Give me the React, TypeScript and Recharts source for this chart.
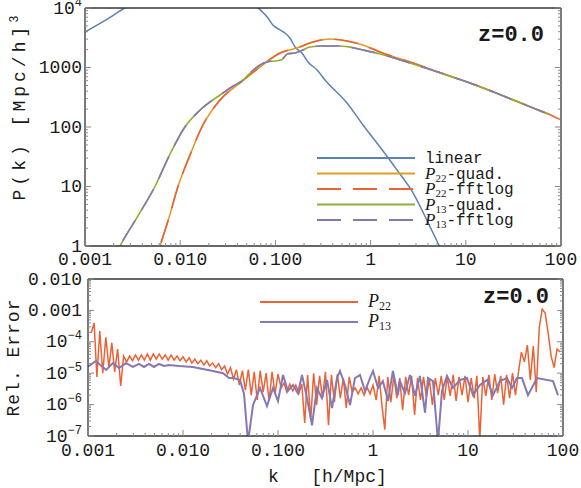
import { Line, LineChart, XAxis, YAxis } from "recharts";

const FONT = "'Liberation Mono', 'Courier New', monospace";
const SERIF = "'Liberation Serif', 'Times New Roman', serif";
const BLUE = "#5e81b5";
const ORANGE = "#e19c24";
const GREEN = "#8fb032";
const RED = "#eb6235";
const PURPLE = "#8778b3";
const TICK = "#8a8a8a";
const FRAME = { stroke: "#333", strokeWidth: 1.3 };

// ---- top panel: P(k) ----
const linK = [0.001, 0.0018, 0.0026, 0.004, 0.007, 0.012, 0.02, 0.03, 0.045, 0.066, 0.082, 0.094, 0.112, 0.126, 0.142, 0.161, 0.19, 0.22, 0.274, 0.332, 0.565, 0.832, 1.256, 1.89, 2.79, 4.0, 5.27, 8];
const linP = [3950, 6800, 10000, 14000, 20000, 25000, 27000, 24000, 16000, 10000, 7060, 5180, 4270, 3800, 3130, 2210, 1750, 1240, 907, 617, 253, 108, 46, 19, 7.8, 2.5, 1.0, 0.25];

const p22K = [0.0045, 0.00613, 0.00763, 0.00948, 0.0126, 0.0169, 0.0262, 0.0425, 0.0689, 0.112, 0.168, 0.249, 0.376, 0.565, 0.83, 1.256, 2.79, 6.3, 14.1, 31.6, 70.7];
const p22P = [0.2, 1, 3, 10, 33, 100, 284, 550, 1020, 1750, 2130, 2680, 3010, 2790, 2390, 1820, 1190, 748, 476, 284, 170];
// fftlog run reaches further out; listed from the high-k end
const p22FftK = [97.6, ...p22K.slice().reverse()];
const p22FftP = [134, ...p22P.slice().reverse()];

const p13K = [0.0017, 0.00233, 0.0036, 0.00543, 0.00781, 0.0112, 0.0162, 0.0262, 0.0361, 0.0457, 0.0585, 0.0746, 0.0813, 0.1, 0.116, 0.135, 0.16, 0.195, 0.23, 0.317, 0.475, 0.565, 0.83, 1.256, 2.79, 6.3, 14.1, 31.6, 73];
const p13P = [0.35, 1, 3.2, 10, 35, 100, 193, 345, 489, 616, 908, 1180, 1240, 1290, 1350, 1700, 1750, 1970, 2210, 2300, 2300, 2240, 1970, 1690, 1145, 748, 476, 284, 165];

// ---- bottom panel: relative error ----
const errK22 = [
  0.00108, 0.00116, 0.00124, 0.00133, 0.00143, 0.00154, 0.00166, 0.00178, 0.00191, 0.00205, 0.00221, 0.00237, 0.00255, 0.00274, 0.00294, 0.00316, 0.0034, 0.00365, 0.00392, 0.00422, 0.00453, 0.00487, 0.00523, 0.00562, 0.00604, 0.00649, 0.00698, 0.0075, 0.00806, 0.00866, 0.00931,
  0.01, 0.0108, 0.0116, 0.0124, 0.0133, 0.0143, 0.0154, 0.0166, 0.0178, 0.0191, 0.0205, 0.0221, 0.0237, 0.0255, 0.0274, 0.0294, 0.0316, 0.034, 0.0365, 0.0392, 0.0422, 0.0453, 0.0487, 0.0523, 0.0562, 0.0604, 0.0649, 0.0698, 0.075, 0.0806, 0.0866, 0.0931,
  0.1, 0.108, 0.116, 0.124, 0.133, 0.143, 0.154, 0.166, 0.178, 0.191, 0.205, 0.221, 0.237, 0.255, 0.274, 0.294, 0.316, 0.34, 0.365, 0.392, 0.422, 0.453, 0.487, 0.523, 0.562, 0.604, 0.649, 0.698, 0.75, 0.806, 0.866, 0.931,
  1, 1.08, 1.16, 1.24, 1.33, 1.43, 1.54, 1.66, 1.78, 1.91, 2.05, 2.21, 2.37, 2.55, 2.74, 2.94, 3.16, 3.4, 3.65, 3.92, 4.22, 4.53, 4.87, 5.23, 5.62, 6.04, 6.49, 6.98, 7.5, 8.06, 8.66, 9.31,
  10, 10.8, 11.6, 12.4, 13.3, 14.3, 15.4, 16.6, 17.8, 19.1, 20.5, 22.1, 23.7, 25.5, 27.4, 29.4, 31.6, 34, 36.5, 39.2, 42.2, 45.3, 48.7, 52.3, 56.2, 60.4, 64.9, 69.8, 75, 80.6, 86.6, 93.1,
];
const err22 = [
  1.9e-4, 4.0e-4, 7.6e-6, 2.2e-4, 1.0e-5, 1.4e-4, 1.5e-5, 9.2e-5, 1.1e-5, 5.9e-5,
  3.9e-6, 3.5e-5, 2.3e-5, 3.5e-5, 2.5e-5, 3.8e-5, 2.6e-5, 3.8e-5, 2.6e-5, 4.1e-5,
  2.6e-5, 4.1e-5, 2.8e-5, 4.1e-5, 2.8e-5, 3.8e-5, 2.6e-5, 3.8e-5, 2.6e-5, 3.5e-5,
  2.5e-5, 3.3e-5, 2.3e-5, 3.1e-5, 2.1e-5, 2.8e-5, 2.0e-5, 2.6e-5, 1.8e-5, 2.5e-5,
  1.7e-5, 2.1e-5, 1.5e-5, 2.0e-5, 1.3e-5, 1.7e-5, 9.4e-6, 1.5e-5, 6.5e-6, 1.3e-5,
  4.2e-6, 1.2e-5, 2.9e-6, 1.3e-5, 2.0e-6, 1.1e-5, 1.4e-6, 1.2e-5, 2.5e-6, 1.0e-5,
  1.3e-6, 1.1e-5, 2.2e-6, 9.4e-6, 3.4e-6, 4.9e-6, 2.5e-6, 4.5e-6, 2.7e-6, 4.2e-6,
  2.3e-6, 4.5e-6, 2.6e-7, 8.8e-6, 3.2e-7, 1.0e-5, 9.7e-7, 8.2e-6, 1.6e-6, 1.1e-5,
  2.2e-7, 8.8e-6, 1.2e-6, 9.4e-6, 1.6e-6, 7.0e-6, 7.8e-7, 7.6e-6, 2.5e-6, 3.4e-6,
  2.2e-6, 3.4e-6, 2.0e-6, 3.6e-6, 2.2e-6, 4.2e-6, 1.4e-6, 8.2e-6, 1.0e-6, 1.6e-7,
  7.6e-6, 1.2e-6, 8.2e-6, 1.6e-6, 7.0e-6, 6.7e-7, 7.6e-6, 2.0e-6, 8.2e-6, 4.7e-7,
  7.0e-6, 1.4e-6, 7.6e-6, 1.75e-6, 6.5e-6, 9.7e-7, 7.0e-6, 2.0e-6, 8.2e-6, 1.4e-6,
  7.6e-6, 1.9e-6, 8.8e-6, 1.3e-6, 7.6e-6, 2.0e-6, 8.2e-6, 1.2e-6, 7.0e-6, 1.6e-6,
  8.2e-6, 7.5e-8, 7.6e-6, 1.9e-6, 8.8e-6, 1.4e-6, 9.4e-6, 2.3e-6, 8.2e-6, 1.0e-6,
  8.8e-6, 1.6e-6, 1.0e-5, 2.0e-6, 1.1e-5, 4.7e-5, 2.3e-5, 7.9e-5, 6.1e-6, 7.3e-5,
  2.5e-6, 2.75e-4, 1.1e-3, 8.3e-4, 1.9e-4, 3.5e-5, 1.5e-5, 5.9e-5, 4.7e-5,
];

const errK13 = [
  0.001, 0.00121, 0.00155, 0.00183, 0.00212, 0.00251, 0.00298, 0.00344, 0.00389, 0.00439, 0.00495, 0.00559, 0.00631, 0.00712, 0.00908,
  0.0127, 0.0162, 0.0207, 0.0264, 0.0305, 0.0344, 0.0398, 0.0439, 0.0483, 0.0546, 0.0646, 0.0766, 0.0886, 0.1, 0.113, 0.127, 0.144, 0.162, 0.179, 0.202, 0.228, 0.257, 0.29, 0.328, 0.37, 0.418, 0.449, 0.507, 0.573, 0.646, 0.73, 0.824, 0.93,
  1.0, 1.13, 1.27, 1.44, 1.62, 1.83, 1.92, 2.17, 2.45, 2.77, 3.12, 3.53, 3.79, 4.28, 4.83, 5.32, 6.01, 6.95, 8.24, 9.76, 11.3, 13.4, 15.9, 18.3, 21.7, 25.7, 29.1, 32.8, 37.0, 42.8, 53.2, 78.5, 88.6,
];
const err13 = [
  1.6e-5, 2.45e-5, 1.27e-5, 2.1e-5, 1.47e-5, 2.1e-5, 1.58e-5, 1.97e-5, 1.58e-5, 1.97e-5, 1.58e-5, 1.97e-5, 1.7e-5, 1.83e-5, 1.7e-5,
  1.58e-5, 1.36e-5, 1.18e-5, 1.0e-5, 7.0e-6, 7.0e-6, 6.1e-6, 2.2e-6, 6.5e-8, 9.7e-7, 3.4e-6, 9.0e-7, 3.4e-6, 1.3e-6, 8.8e-6, 2.7e-6, 4.2e-6, 2.3e-6, 8.8e-6, 1.6e-6, 2.2e-7, 3.4e-6, 1.6e-6, 6.1e-6, 7.8e-7, 7.0e-6, 1.18e-5, 4.2e-6, 9.7e-7, 7.0e-6, 8.8e-6, 2.7e-6, 7.0e-6,
  1.18e-5, 3.4e-6, 5.6e-6, 1.3e-6, 1.18e-5, 2.0e-6, 5.6e-6, 2.3e-6, 8.8e-6, 1.9e-6, 8.2e-6, 5.5e-7, 7.0e-6, 5.6e-6, 6.5e-8, 2.7e-6, 8.2e-6, 3.4e-6, 6.1e-6, 7.0e-6, 2.0e-6, 4.2e-6, 6.1e-6, 2.0e-6, 5.6e-6, 7.0e-6, 3.4e-6, 7.0e-6, 7.0e-6, 2.0e-6, 7.0e-6, 5.6e-6, 2.0e-6,
];

// ---- axes ----
const xMajor = [0.001, 0.01, 0.1, 1, 10, 100];
const xLabels = ["0.001", "0.010", "0.100", "1", "10", "100"];
const topYMajor = [1, 10, 100, 1000, 10000];
const topYLabels = ["1", "10", "100", "1000", "10^4"];
const botYMajor = [1e-7, 1e-6, 1e-5, 1e-4, 1e-3, 1e-2];
const botYLabels = ["10^−7", "10^−6", "10^−5", "10^−4", "0.001", "0.010"];

const topLegend = ["linear", "P_22-quad.", "P_22-fftlog", "P_13-quad.", "P_13-fftlog"];
const topLegendColors = [BLUE, ORANGE, RED, GREEN, PURPLE];
const topLegendDashed = [false, false, true, false, true];
const botLegend = ["P_22", "P_13"];
const botLegendColors = [RED, PURPLE];

const pairs = (ks: number[], vs: number[]) => ks.map((k, i) => ({ k, v: vs[i] }));

function withMinors(majors: number[]) {
  const out: number[] = [];
  majors.forEach((m, i) => {
    out.push(m);
    if (i < majors.length - 1) for (let j = 2; j < 10; j++) out.push(m * j);
  });
  return out;
}

type Side = "bottom" | "top" | "left" | "right";

function renderTick(p: any, side: Side, majors: number[], labels: string[] | null, off: number) {
  const { x, y, payload } = p;
  const i = majors.findIndex((m) => Math.abs(payload.value / m - 1) < 1e-6);
  const len = i >= 0 ? 6 : 3;
  const dx = side === "left" ? len : side === "right" ? -len : 0;
  const dy = side === "bottom" ? -len : side === "top" ? len : 0;
  let label = null;
  if (labels && i >= 0) {
    const [base, sup] = labels[i].split("^");
    const left = side === "left";
    label = (
      <text
        x={left ? x - off : x}
        y={left ? y + 5.5 : y + off}
        textAnchor={left ? "end" : "middle"}
        fontFamily={FONT}
        fontSize={18}
        fill="#1a1a1a"
      >
        {base}
        {sup ? (
          <tspan dy={-8} fontSize={12}>
            {sup}
          </tspan>
        ) : null}
      </text>
    );
  }
  return (
    <g>
      <line x1={x} y1={y} x2={x + dx} y2={y + dy} stroke={TICK} strokeWidth={1} />
      {label}
    </g>
  );
}

function PLabel({ x, y, text, size }: { x: number; y: number; text: string; size: number }) {
  if (!text.startsWith("P_")) {
    return (
      <text x={x} y={y} fontFamily={FONT} fontSize={size} fill="#1a1a1a">
        {text}
      </text>
    );
  }
  const sub = text.slice(2, 4);
  const rest = text.slice(4);
  return (
    <text x={x} y={y} fontFamily={FONT} fontSize={size} fill="#1a1a1a">
      <tspan fontFamily={SERIF} fontStyle="italic" fontSize={size + 1}>
        P
      </tspan>
      <tspan fontFamily={SERIF} fontSize={size - 5} dy={3}>
        {sub}
      </tspan>
      <tspan dy={-3}>{rest}</tspan>
    </text>
  );
}

function Panel({ width, height, top, bottom, left, right, yDomain, yMajor, yLabels, xOff, yOff, children }: any) {
  const xTicks = withMinors(xMajor);
  const yTicks = withMinors(yMajor);
  const common = { type: "number" as const, scale: "log" as const, allowDataOverflow: true, interval: 0, tickSize: 0, tickMargin: 0, tickLine: false, axisLine: FRAME };
  return (
    <LineChart width={width} height={height} margin={{ top: 0, right: 0, bottom: 0, left: 0 }}>
      <XAxis xAxisId="b" dataKey="k" domain={[0.001, 100]} ticks={xTicks} height={bottom} {...common} tick={(p: any) => renderTick(p, "bottom", xMajor, xLabels, xOff)} />
      <XAxis xAxisId="t" orientation="top" domain={[0.001, 100]} ticks={xTicks} height={top} {...common} tick={(p: any) => renderTick(p, "top", xMajor, null, 0)} />
      <YAxis yAxisId="l" domain={yDomain} ticks={yTicks} width={left} {...common} tick={(p: any) => renderTick(p, "left", yMajor, yLabels, yOff)} />
      <YAxis yAxisId="r" orientation="right" domain={yDomain} ticks={yTicks} width={right} {...common} tick={(p: any) => renderTick(p, "right", yMajor, null, 0)} />
      {children}
    </LineChart>
  );
}

const lineProps = { xAxisId: "b", yAxisId: "l", dataKey: "v", dot: false, isAnimationActive: false, type: "linear" as const };
const smooth = { ...lineProps, type: "monotoneX" as const };

export default function App() {
  return (
    <div style={{ position: "absolute", left: 0, top: 0, width: 581, height: 488, background: "#fff" }}>
      <div style={{ position: "absolute", left: 0, top: 0 }}>
        <Panel width={581} height={270} top={8} bottom={24} left={85} right={20} yDomain={[1, 10000]} yMajor={topYMajor} yLabels={topYLabels} xOff={19} yOff={3}>
          <Line {...smooth} data={pairs(linK, linP)} stroke={BLUE} strokeWidth={1.5} />
          <Line {...smooth} data={pairs(p22K, p22P)} stroke={ORANGE} strokeWidth={1.6} />
          <Line {...lineProps} type="monotone" data={pairs(p22FftK, p22FftP)} stroke={RED} strokeWidth={1.6} strokeDasharray="24 12" />
          <Line {...smooth} data={pairs(p13K, p13P)} stroke={GREEN} strokeWidth={1.6} />
          <Line {...smooth} data={pairs(p13K, p13P)} stroke={PURPLE} strokeWidth={1.6} strokeDasharray="24 12" />
        </Panel>
      </div>
      <div style={{ position: "absolute", left: 0, top: 270 }}>
        <Panel width={581} height={218} top={9} bottom={52} left={88} right={18} yDomain={[1e-7, 1e-2]} yMajor={botYMajor} yLabels={botYLabels} xOff={20} yOff={6}>
          <Line {...lineProps} data={pairs(errK22, err22)} stroke={RED} strokeWidth={1.5} />
          <Line {...lineProps} data={pairs(errK13, err13)} stroke={PURPLE} strokeWidth={2} />
        </Panel>
      </div>
      <svg width={581} height={488} style={{ position: "absolute", left: 0, top: 0, pointerEvents: "none" }}>
        <text x={25} y={108} transform="rotate(-90 25 108)" textAnchor="middle" fontFamily={FONT} fontSize={18} fill="#1a1a1a" textLength={185} lengthAdjust="spacing">
          P(k) [Mpc/h]<tspan dy={-7} fontSize={12}>3</tspan>
        </text>
        <text x={19} y={358} transform="rotate(-90 19 358)" textAnchor="middle" fontFamily={FONT} fontSize={18} fill="#1a1a1a" textLength={117} lengthAdjust="spacing">
          Rel. Error
        </text>
        <text x={268} y={482} fontFamily={FONT} fontSize={18} fill="#1a1a1a" style={{ whiteSpace: "pre" }}>
          {"k   [h/Mpc]"}
        </text>
        <text x={478} y={41} fontFamily={FONT} fontSize={22} fontWeight="bold" fill="#1a1a1a">
          z=0.0
        </text>
        <text x={483} y={303} fontFamily={FONT} fontSize={22} fontWeight="bold" fill="#1a1a1a">
          z=0.0
        </text>
        {topLegend.map((name, i) => {
          const y = 158 + i * 15.5;
          return (
            <g key={name}>
              <line x1={317} x2={415} y1={y} y2={y} stroke={topLegendColors[i]} strokeWidth={2} strokeDasharray={topLegendDashed[i] ? "24 12" : undefined} />
              <PLabel x={425} y={y + 5} text={name} size={16} />
            </g>
          );
        })}
        {botLegend.map((name, i) => {
          const y = 302 + i * 20;
          return (
            <g key={name}>
              <line x1={260} x2={358} y1={y} y2={y} stroke={botLegendColors[i]} strokeWidth={2} />
              <PLabel x={368} y={y + 5} text={name} size={17} />
            </g>
          );
        })}
      </svg>
    </div>
  );
}
